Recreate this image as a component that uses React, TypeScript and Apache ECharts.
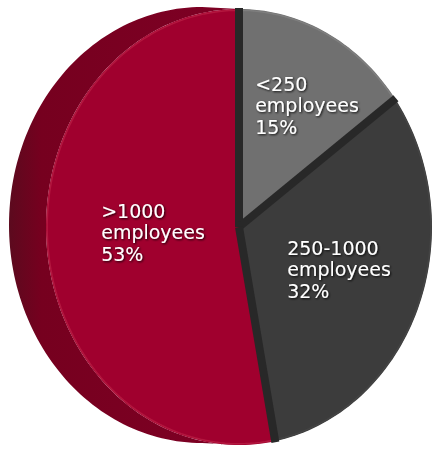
import React, { useEffect, useRef } from 'react';
import * as echarts from 'echarts';

// ---- data ----
const categories: string[] = ['<250', '250-1000', '>1000'];
const unitLabel = 'employees';
const values: number[] = [15, 32, 53];

// ---- styles / layout ----
const FACE_COLORS = ['#707070', '#3c3c3c', '#a0002e'];
const RIM_COLORS = ['#7e7e7e', '#444444', '#b3173f'];
const SIDE_STOPS = [
  { offset: 0, color: '#5c0a1e' },
  { offset: 0.14, color: '#76001f' },
  { offset: 1, color: '#7e0024' },
];
const SEP_COLOR = '#282828';
const CX = 239;
const CY = 227;
const RX = 193;
const RY = 218;
const DEPTH_X = -37;
const DEPTH_Y = -2;
const TAU = Math.PI * 2;
const FONT = '19px "DejaVu Sans"';
const LINE_H = 21.5;
// label placement: fraction of radius and angle tweak (deg) relative to slice bisector
const LABEL_LAYOUT = [
  { f: 0.661, da: 5.2 },
  { f: 0.553, da: -1.2 },
  { f: 0.446, da: 2.4 },
];

function pt(t: number, f = 1, ox = 0, oy = 0): number[] {
  return [CX + ox + RX * f * Math.sin(t), CY + oy - RY * f * Math.cos(t)];
}

function arc(a0: number, a1: number, ox = 0, oy = 0, f = 1): number[][] {
  const n = Math.max(2, Math.ceil((a1 - a0) / (Math.PI / 120)));
  const pts: number[][] = [];
  for (let k = 0; k <= n; k++) {
    pts.push(pt(a0 + ((a1 - a0) * k) / n, f, ox, oy));
  }
  return pts;
}

let measureCtx: CanvasRenderingContext2D | null = null;
function textWidth(s: string): number {
  if (!measureCtx) {
    const c = document.createElement('canvas');
    measureCtx = c.getContext('2d');
  }
  if (!measureCtx) return s.length * 10;
  measureCtx.font = FONT;
  return measureCtx.measureText(s).width;
}

export default function App() {
  const ref = useRef<HTMLDivElement>(null);

  useEffect(() => {
    if (!ref.current) return;
    const chart = echarts.init(ref.current, undefined, { renderer: 'svg' });
    const total = values.reduce((a, b) => a + b, 0);

    const renderItem = (params: any, api: any) => {
      const i = params.dataIndex;
      const v = api.value(0);
      const before = values.slice(0, i).reduce((a, b) => a + b, 0);
      const a0 = (before / total) * TAU;
      const a1 = ((before + v) / total) * TAU;
      const children: any[] = [];

      // visible side (extrusion) on the left half
      const s = Math.max(a0, Math.PI);
      const e = Math.min(a1, TAU);
      if (e > s) {
        const front = arc(s, e);
        const back = arc(s, e, DEPTH_X, DEPTH_Y).reverse();
        children.push({
          type: 'polygon',
          z2: 0,
          shape: { points: front.concat(back) },
          style: {
            fill: new echarts.graphic.LinearGradient(0, 0, 1, 0, SIDE_STOPS),
          },
        });
      }

      // face
      children.push({
        type: 'polygon',
        z2: 10,
        shape: { points: [[CX, CY]].concat(arc(a0, a1)) },
        style: { fill: FACE_COLORS[i] },
      });
      // rim highlight
      children.push({
        type: 'polyline',
        z2: 11,
        shape: { points: arc(a0, a1, 0, 0, 0.994) },
        style: { stroke: RIM_COLORS[i], lineWidth: 1.5, fill: null },
      });
      // separator at slice start
      const rim = pt(a0, 1.005);
      children.push({
        type: 'line',
        z2: 12,
        shape: { x1: CX, y1: CY, x2: rim[0], y2: rim[1] },
        style: { stroke: SEP_COLOR, lineWidth: 8, lineCap: 'butt' },
      });

      // label
      const lay = LABEL_LAYOUT[i];
      const mid = (a0 + a1) / 2 + (lay.da * Math.PI) / 180;
      const c = pt(mid, lay.f);
      const pct = Math.round((v / total) * 100);
      const lines = [categories[i], unitLabel, pct + '%'];
      const w = Math.max(...lines.map(textWidth));
      children.push({
        type: 'text',
        z2: 20,
        style: {
          text: lines.join('\n'),
          x: c[0] - w / 2,
          y: c[1],
          fill: '#ffffff',
          font: FONT,
          align: 'left',
          verticalAlign: 'middle',
          lineHeight: LINE_H,
          textShadowColor: 'rgba(0,0,0,0.85)',
          textShadowBlur: 2,
          textShadowOffsetX: 1,
          textShadowOffsetY: 1,
        },
      });

      return { type: 'group', children };
    };

    chart.setOption({
      animation: false,
      backgroundColor: '#ffffff',
      series: [
        {
          type: 'custom',
          coordinateSystem: 'none',
          renderItem,
          data: values.map((v, i) => ({ name: categories[i], value: [v] })),
        },
      ],
    });

    return () => chart.dispose();
  }, []);

  return (
    <div
      ref={ref}
      style={{ position: 'absolute', left: 0, top: 0, width: 436, height: 451 }}
    />
  );
}
